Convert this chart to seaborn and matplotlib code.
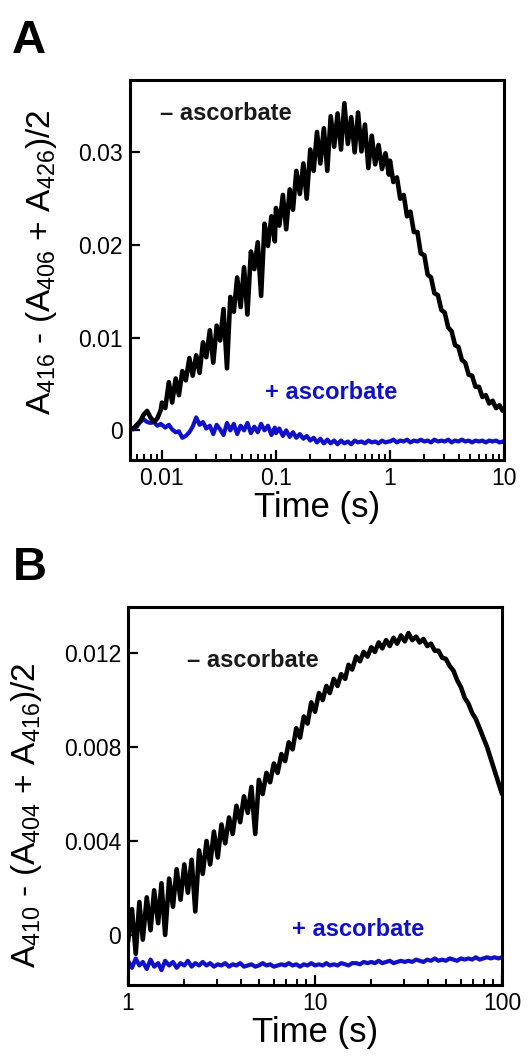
#!/usr/bin/env python3

import pandas as pd
import matplotlib.pyplot as plt
import seaborn as sns

# ---- data (absorbance values in units of 1e-3) ----
time_a = [0.00525, 0.00562, 0.00603, 0.00646, 0.00692, 0.00741, 0.00794, 0.00851, 0.00912, 0.00977,
          0.0100, 0.0107, 0.0115, 0.0123, 0.0132, 0.0141, 0.0151, 0.0162, 0.0174, 0.0186,
          0.0200, 0.0214, 0.0229, 0.0245, 0.0263, 0.0282, 0.0302, 0.0324, 0.0347, 0.0372,
          0.0398, 0.0427, 0.0457, 0.0490, 0.0525, 0.0562, 0.0603, 0.0646, 0.0692, 0.0741,
          0.0794, 0.0851, 0.0912, 0.0977,
          0.100, 0.107, 0.115, 0.123, 0.132, 0.141, 0.151, 0.162, 0.174, 0.186,
          0.200, 0.214, 0.229, 0.245, 0.263, 0.282, 0.302, 0.324, 0.347, 0.372,
          0.398, 0.427, 0.457, 0.490, 0.525, 0.562, 0.603, 0.646, 0.692, 0.741,
          0.794, 0.851, 0.912, 0.977,
          1.00, 1.07, 1.15, 1.23, 1.32, 1.41, 1.51, 1.62, 1.74, 1.86,
          2.00, 2.14, 2.29, 2.45, 2.63, 2.82, 3.02, 3.24, 3.47, 3.72,
          3.98, 4.27, 4.57, 4.90, 5.25, 5.62, 6.03, 6.46, 6.92, 7.41,
          7.94, 8.51, 9.12, 9.77, 10.0]

minus_asc_a = [0.3, 0.2, 0.6, 1.0, 1.7, 2.1, 1.4, 0.9, 1.3, 2.2,
               3.0, 2.4, 5.2, 3.0, 5.6, 3.8, 6.4, 5.4, 7.8, 5.9,
               8.1, 6.2, 9.5, 7.9, 10.8, 7.3, 11.3, 9.7, 13.1, 6.7,
               14.4, 12.8, 16.5, 13.3, 17.6, 12.5, 19.3, 17.4, 20.3, 14.5,
               22.3, 19.9, 23.1, 20.4, 24.0, 22.1, 25.4, 21.7, 26.0, 23.8,
               28.0, 25.5, 28.8, 25.0, 30.3, 28.0, 32.2, 28.8, 32.6, 28.0,
               33.9, 30.6, 34.2, 30.3, 35.3, 30.9, 33.8, 30.0, 34.3, 30.1,
               33.0, 28.3, 31.8, 28.7, 30.8, 28.2, 29.9, 27.6, 29.1, 26.8,
               27.3, 25.0, 25.4, 23.1, 23.6, 21.4, 21.4, 19.1, 18.9, 16.8,
               16.5, 14.8, 14.6, 13.0, 12.7, 11.1, 10.7, 9.2, 9.0, 7.6,
               7.3, 6.0, 5.9, 4.7, 4.7, 3.6, 3.8, 2.9, 3.2, 2.4,
               2.7, 2.1, 2.2]

plus_asc_a = [0.2, 0.1, 0.4, 0.9, 1.2, 0.9, 0.8, 0.9, 0.5, 0.7,
              0.6, 0.3, 0.6, 0.1, -0.2, -0.1, -0.8, -0.6, -0.2, 0.4,
              1.4, 0.6, 0.9, 0.2, 0.5, -0.4, 0.6, 0.1, -0.5, 0.8,
              0.0, 0.7, -0.4, 0.5, 0.0, 0.8, -0.3, 0.4, -0.2, 0.7,
              0.0, 0.5, -0.5, 0.3, -0.3, 0.2, -0.6, 0.0, -0.7, -0.2,
              -0.8, -0.4, -0.9, -0.6, -1.1, -0.8, -1.3, -0.9, -1.4, -1.0,
              -1.4, -1.1, -1.5, -1.1, -1.4, -1.2, -1.5, -1.1, -1.3, -1.2,
              -1.4, -1.1, -1.3, -1.2, -1.4, -1.1, -1.3, -1.2,
              -1.2, -1.0, -1.3, -1.1, -1.2, -1.0, -1.3, -1.1, -1.2, -1.0,
              -1.2, -1.1, -1.3, -1.0, -1.2, -1.1, -1.2, -1.0, -1.3, -1.1,
              -1.2, -1.0, -1.2, -1.1, -1.3, -1.1, -1.2, -1.1, -1.3, -1.1,
              -1.2, -1.1, -1.3, -1.2, -1.3]

time_b = [1.00, 1.05, 1.10, 1.15, 1.20, 1.26, 1.32, 1.38, 1.45, 1.51,
          1.58, 1.66, 1.74, 1.82, 1.91, 2.00, 2.09, 2.19, 2.29, 2.40,
          2.51, 2.63, 2.75, 2.88, 3.02, 3.16, 3.31, 3.47, 3.63, 3.80,
          3.98, 4.17, 4.37, 4.57, 4.79, 5.01, 5.25, 5.50, 5.75, 6.03,
          6.31, 6.61, 6.92, 7.24, 7.59, 7.94, 8.32, 8.71, 9.12, 9.55,
          10.0, 10.5, 11.0, 11.5, 12.0, 12.6, 13.2, 13.8, 14.5, 15.1,
          15.8, 16.6, 17.4, 18.2, 19.1, 20.0, 20.9, 21.9, 22.9, 24.0,
          25.1, 26.3, 27.5, 28.8, 30.2, 31.6, 33.1, 34.7, 36.3, 38.0,
          39.8, 41.7, 43.7, 45.7, 47.9, 50.1, 52.5, 55.0, 57.5, 60.3,
          63.1, 66.1, 69.2, 72.4, 75.9, 79.4, 83.2, 87.1, 91.2, 95.5,
          100.0]

minus_asc_b = [-0.3, 1.1, -0.8, 1.4, -0.2, 1.6, 0.2, 1.9, 0.5, 2.2,
               0.0, 2.4, 1.2, 2.8, 1.5, 3.0, 1.8, 3.2, 1.0, 3.6,
               2.6, 4.0, 3.0, 4.4, 3.3, 4.7, 3.9, 5.0, 4.3, 5.5,
               4.8, 5.9, 5.2, 6.3, 4.3, 6.6, 6.0, 6.9, 6.5, 7.3,
               6.9, 7.7, 7.4, 8.2, 7.9, 8.8, 8.4, 9.3, 9.0, 9.9,
               9.5, 10.3, 10.0, 10.6, 10.3, 10.9, 10.6, 11.1, 10.9, 11.5,
               11.3, 11.85, 11.65, 12.05, 11.85, 12.25, 12.05, 12.45, 12.2, 12.55,
               12.3, 12.65, 12.4, 12.75, 12.5, 12.85, 12.55, 12.7, 12.45, 12.6,
               12.3, 12.4, 12.1, 12.1, 11.8, 11.75, 11.45, 11.25, 10.85, 10.55,
               10.1, 9.85, 9.45, 9.2, 8.8, 8.4, 8.0, 7.5, 7.0, 6.5,
               6.0]

plus_asc_b = [-1.1, -1.4, -1.0, -1.3, -1.15, -1.45, -1.05, -1.35, -1.2, -1.5,
              -1.1, -1.3, -1.15, -1.4, -1.2, -1.3, -1.1, -1.35, -1.2, -1.3,
              -1.15,
              -1.3, -1.2, -1.35, -1.25, -1.3, -1.2, -1.35, -1.25, -1.3, -1.2,
              -1.35, -1.3, -1.25, -1.35, -1.3, -1.2, -1.3, -1.25, -1.35, -1.3,
              -1.25, -1.3, -1.2, -1.3, -1.25, -1.35, -1.25, -1.3, -1.2, -1.3,
              -1.25, -1.3, -1.2, -1.3, -1.25, -1.3, -1.2, -1.25, -1.3, -1.2,
              -1.2, -1.25, -1.15, -1.2, -1.15, -1.2, -1.1, -1.2, -1.15, -1.1,
              -1.2, -1.15, -1.1, -1.15, -1.1, -1.15, -1.05, -1.1, -1.15, -1.05,
              -1.1, -1.0, -1.1, -1.05, -1.1, -1.0, -1.05, -1.1, -1.0, -1.05,
              -1.0, -1.05, -0.95, -1.05, -1.0, -0.95, -1.0, -0.95, -1.0, -0.95]

xticks_a = [0.01, 0.1, 1, 10]
xticklabels_a = ['0.01', '0.1', '1', '10']
yticks_a = [0, 0.01, 0.02, 0.03]
yticklabels_a = ['0', '0.01', '0.02', '0.03']
xticks_b = [1, 10, 100]
xticklabels_b = ['1', '10', '100']
yticks_b = [0, 0.004, 0.008, 0.012]
yticklabels_b = ['0', '0.004', '0.008', '0.012']

BLACK = '#000000'
BLUE = '#1010c8'

df_a = pd.DataFrame({'time': time_a * 2,
                     'value': [v * 1e-3 for v in minus_asc_a + plus_asc_a],
                     'cond': ['minus'] * len(time_a) + ['plus'] * len(time_a)})
df_b = pd.DataFrame({'time': time_b * 2,
                     'value': [v * 1e-3 for v in minus_asc_b + plus_asc_b],
                     'cond': ['minus'] * len(time_b) + ['plus'] * len(time_b)})

sns.set_style('ticks')
plt.rcParams['font.family'] = ['Liberation Sans', 'DejaVu Sans']
plt.rcParams['mathtext.fontset'] = 'custom'
plt.rcParams['mathtext.rm'] = 'Liberation Sans'
plt.rcParams['mathtext.it'] = 'Liberation Sans:italic'
plt.rcParams['mathtext.bf'] = 'Liberation Sans:bold'
for key in ['text.color', 'axes.labelcolor', 'xtick.color', 'ytick.color', 'axes.edgecolor']:
    plt.rcParams[key] = 'black'

fig = plt.figure(figsize=(5.3, 10.59), dpi=100)
ax_a = fig.add_axes([0.2453, 0.5656, 0.7057, 0.3588])
ax_b = fig.add_axes([0.2415, 0.0699, 0.7057, 0.3569])


def draw_panel(ax, df, xlim, ylim, xticks, xtl, yticks, ytl, ylabel, label_x, label_y):
    sns.lineplot(data=df[df['cond'] == 'plus'], x='time', y='value', ax=ax,
                 color=BLUE, lw=3.0, estimator=None, sort=False)
    sns.lineplot(data=df[df['cond'] == 'minus'], x='time', y='value', ax=ax,
                 color=BLACK, lw=3.3, estimator=None, sort=False)
    ax.set_xscale('log')
    ax.set_xlim(*xlim)
    ax.set_ylim(*ylim)
    ax.set_xticks(xticks, xtl)
    ax.set_yticks(yticks, ytl)
    ax.tick_params(axis='both', which='major', direction='in', length=7, width=1.6,
                   labelsize=16.5, pad=5, top=False, right=False)
    ax.tick_params(axis='x', which='minor', direction='in', length=4, width=1.4, top=False)
    ax.tick_params(axis='y', which='minor', left=False, right=False)
    for sp in ax.spines.values():
        sp.set_linewidth(2.2)
        sp.set_visible(True)
    ax.set_xlabel('Time (s)', fontsize=25, labelpad=1)
    ax.set_ylabel(ylabel, fontsize=24)
    ax.yaxis.set_label_coords(label_x, label_y)


draw_panel(ax_a, df_a, (0.00525, 10), (-0.0032, 0.0378), xticks_a, xticklabels_a,
           yticks_a, yticklabels_a,
           r'A$_{\mathrm{416}}$ - (A$_{\mathrm{406}}$ + A$_{\mathrm{426}}$)/2', -0.19, 0.52)
draw_panel(ax_b, df_b, (1, 100), (-0.00213, 0.01396), xticks_b, xticklabels_b,
           yticks_b, yticklabels_b,
           r'A$_{\mathrm{410}}$ - (A$_{\mathrm{404}}$ + A$_{\mathrm{416}}$)/2', -0.225, 0.45)

# annotations
ax_a.text(0.08, 0.913, '\u2013 ascorbate', transform=ax_a.transAxes, fontsize=17,
          fontweight='bold', color='#1a1a1a', va='center', ha='left')
ax_a.text(0.361, 0.179, '+ ascorbate', transform=ax_a.transAxes, fontsize=17,
          fontweight='bold', color=BLUE, va='center', ha='left')
ax_b.text(0.158, 0.858, '\u2013 ascorbate', transform=ax_b.transAxes, fontsize=17,
          fontweight='bold', color='#1a1a1a', va='center', ha='left')
ax_b.text(0.4385, 0.147, '+ ascorbate', transform=ax_b.transAxes, fontsize=17,
          fontweight='bold', color=BLUE, va='center', ha='left')

# panel letters
fig.text(0.022, 0.95, 'A', fontsize=34, fontweight='bold', va='baseline', ha='left')
fig.text(0.024, 0.4523, 'B', fontsize=34, fontweight='bold', va='baseline', ha='left')

plt.savefig('out.png', dpi=100)
